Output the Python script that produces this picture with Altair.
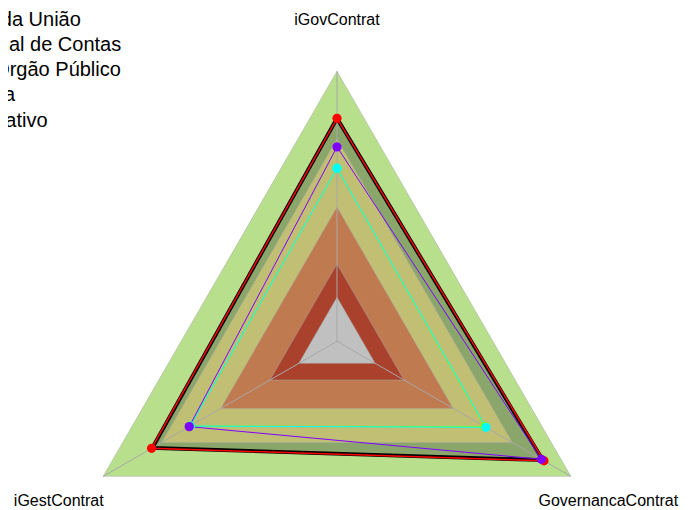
import altair as alt
import pandas as pd
import numpy as np

# ---------------- data ----------------
axis_names = ["iGovContrat", "GovernancaContrat", "iGestContrat"]
axis_angles = [90, -30, 210]

series_names = ["Total da União", "Tribunal de Contas", "Seu Órgão Público", "Justiça", "Legislativo"]
series_colors = ["#000000", "#ff0000", "#8000ff", "#00ffff", "#80ff00"]
series_values = [
    [0.826, 0.880, 0.790],
    [0.826, 0.885, 0.793],
    [0.720, 0.874, 0.632],
    [0.641, 0.637, 0.628],
    [0.641, 0.632, 0.628],
]
series_widths = [3.8, 1.5, 1, 1, 1]

band_levels = [1.0, 0.75, 0.497, 0.287, 0.163]
band_colors = ["#b8e08c", "#c0bf74", "#c07a50", "#aa412c", "#c0c0c0"]
fill_color_main = "#8aa66a"

label_radius = 1.19

# ---------------- geometry helpers ----------------
W, H = 673, 502
R = 270.0
cx, cy = 329.0, 333.3
xdom = [-cx / R, (W - cx) / R]
ydom = [-(H - cy) / R, cy / R]

xs = alt.Scale(domain=xdom, nice=False, zero=False)
ys = alt.Scale(domain=ydom, nice=False, zero=False)


def poly(vals, name):
    rows = []
    for i in range(len(vals) + 1):
        k = i % len(vals)
        a = np.deg2rad(axis_angles[k])
        rows.append({"x": vals[k] * np.cos(a), "y": vals[k] * np.sin(a), "o": i,
                     "series": name, "axis": axis_names[k]})
    return pd.DataFrame(rows)


def enc(ch):
    return ch.encode(
        x=alt.X("x:Q", scale=xs, axis=None),
        y=alt.Y("y:Q", scale=ys, axis=None),
        order="o:Q",
    )


layers = []

# outer band
layers.append(enc(alt.Chart(poly([band_levels[0]] * 3, "band0")).mark_line(
    fill=band_colors[0], stroke="#a8a8a8", strokeWidth=0.5)))

# main series fill
layers.append(enc(alt.Chart(poly(series_values[0], series_names[0])).mark_line(
    fill=fill_color_main, strokeWidth=0)))

# inner bands
for lev, col in zip(band_levels[1:], band_colors[1:]):
    layers.append(enc(alt.Chart(poly([lev] * 3, "b")).mark_line(
        fill=col, stroke="#a8a8a8", strokeWidth=0.5)))

# spokes
sp = pd.DataFrame({
    "x": [0.0] * 3, "y": [0.0] * 3,
    "x2": [np.cos(np.deg2rad(a)) for a in axis_angles],
    "y2": [np.sin(np.deg2rad(a)) for a in axis_angles],
})
layers.append(alt.Chart(sp).mark_rule(color="#a8a8a8", strokeWidth=1).encode(
    x=alt.X("x:Q", scale=xs, axis=None), y=alt.Y("y:Q", scale=ys, axis=None),
    x2="x2:Q", y2="y2:Q"))

color_scale = alt.Scale(domain=series_names, range=series_colors)
legend = alt.Legend(orient="none", legendX=-79, legendY=1.5, title=None,
                    labelFontSize=20, labelFont="Liberation Sans", labelColor="#000000",
                    symbolType="stroke", rowPadding=5.3, labelLimit=600, padding=0)

# series lines, drawn in order: black, green, cyan, purple, red
line_order = [0, 4, 3, 2, 1]
for j, i in enumerate(line_order):
    df = poly(series_values[i], series_names[i])
    layers.append(alt.Chart(df).mark_line(strokeWidth=series_widths[i]).encode(
        x=alt.X("x:Q", scale=xs, axis=None),
        y=alt.Y("y:Q", scale=ys, axis=None),
        order="o:Q",
        color=alt.Color("series:N", scale=color_scale,
                        legend=legend if j == 0 else None),
    ))

# points: green, cyan, red, purple
for i in [4, 3, 1, 2]:
    df = poly(series_values[i], series_names[i]).iloc[:3]
    layers.append(alt.Chart(df).mark_circle(size=85, opacity=1).encode(
        x=alt.X("x:Q", scale=xs, axis=None),
        y=alt.Y("y:Q", scale=ys, axis=None),
        color=alt.Color("series:N", scale=color_scale, legend=None),
    ))

# axis labels
lab = pd.DataFrame({
    "x": [label_radius * np.cos(np.deg2rad(a)) for a in axis_angles],
    "y": [label_radius * np.sin(np.deg2rad(a)) for a in axis_angles],
    "t": axis_names,
})
text_kw = dict(fontSize=16, font="Liberation Sans", color="#000000", baseline="middle")
xy = dict(x=alt.X("x:Q", scale=xs, axis=None), y=alt.Y("y:Q", scale=ys, axis=None), text="t:N")
layers.append(alt.Chart(lab.iloc[[0]]).mark_text(align="center", **text_kw).encode(**xy))
layers.append(alt.Chart(lab.iloc[[2]]).mark_text(align="center", dy=-1, **text_kw).encode(**xy))
layers.append(alt.Chart(lab.iloc[[1]]).mark_text(align="center", dy=-1, dx=-7, **text_kw).encode(**xy))

chart = alt.layer(*layers).properties(
    width=W, height=H, padding=0,
    autosize=alt.AutoSizeParams(type="none"),
    background="#ffffff",
).configure_view(stroke=None)

chart.save("out.html", embed_options={"renderer": "svg", "actions": False})
